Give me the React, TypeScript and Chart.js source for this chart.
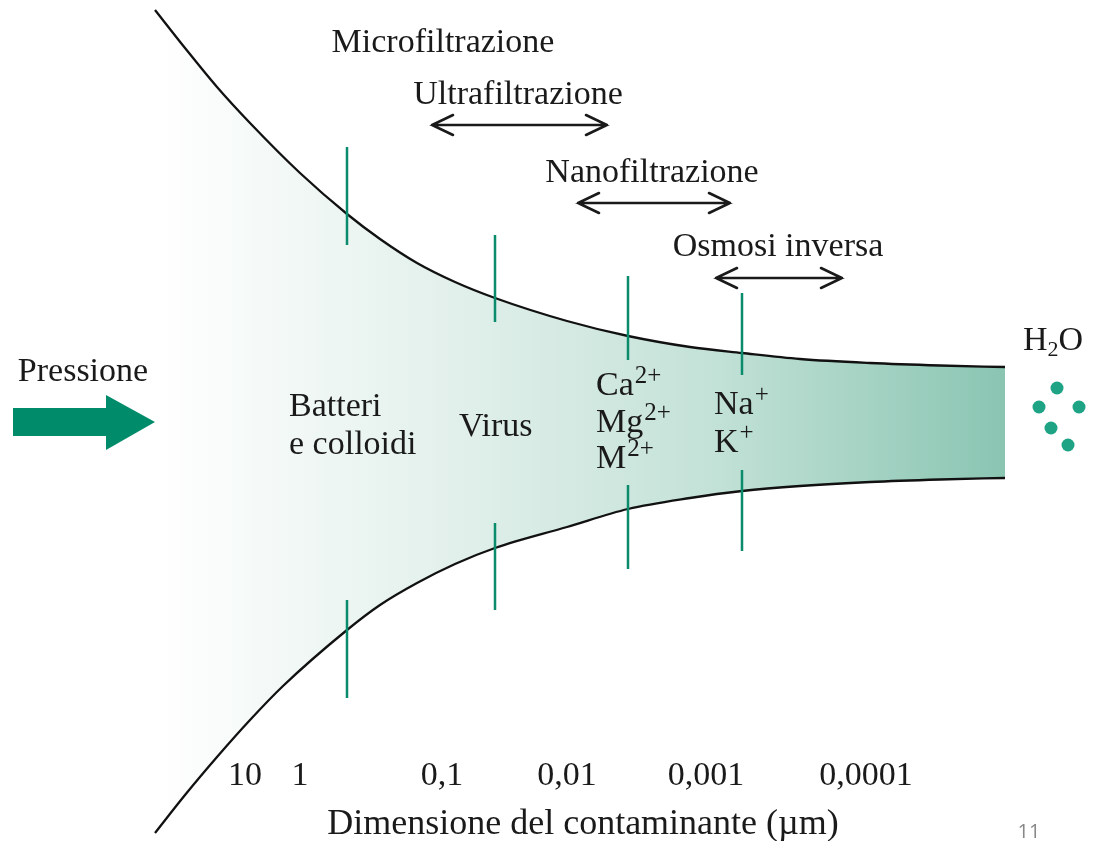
import React, { useEffect, useRef } from "react";
import { Chart, registerables } from "chart.js";

Chart.register(...registerables);

// Diagram coordinate system (x: 0..1107 across, y: 0..841 downward)
const topCurve = [
  { x: 155, y: 10 }, { x: 185, y: 48 }, { x: 217, y: 87 }, { x: 250, y: 123 },
  { x: 300, y: 173 }, { x: 347, y: 214 }, { x: 380, y: 239 }, { x: 417, y: 263 },
  { x: 455, y: 282 }, { x: 495, y: 298 }, { x: 567, y: 321 }, { x: 628, y: 336 },
  { x: 690, y: 347 }, { x: 742, y: 353 }, { x: 800, y: 359 }, { x: 870, y: 363 },
  { x: 940, y: 365.5 }, { x: 1005, y: 367 },
];
const bottomCurve = [
  { x: 155, y: 833 }, { x: 185, y: 795 }, { x: 217, y: 757 }, { x: 250, y: 720 },
  { x: 283, y: 686 }, { x: 347, y: 630 }, { x: 380, y: 605 }, { x: 417, y: 583 },
  { x: 455, y: 564 }, { x: 495, y: 548 }, { x: 567, y: 527 }, { x: 628, y: 509 },
  { x: 690, y: 498 }, { x: 742, y: 491 }, { x: 800, y: 486 }, { x: 870, y: 482 },
  { x: 940, y: 479.5 }, { x: 1005, y: 478 },
];

// Cut-off markers: x and [y1, y2] for upper and lower segments
const markerX = [347, 495, 628, 742];
const markerUpper = [[147, 245], [235, 322], [276, 360], [293, 375]];
const markerLower = [[600, 698], [523, 610], [485, 569], [470, 551]];

// Process ranges (double arrows)
const processNames = ["Microfiltrazione", "Ultrafiltrazione", "Nanofiltrazione", "Osmosi inversa"];
const processLabelPos = [[443, 52], [518, 104], [652, 182], [778, 256]];
const processArrows = [null, [432, 607, 125], [578, 730, 203], [716, 842, 278]];

// Contaminant labels
const contaminants = [
  { t: "Batteri", s: "" }, { t: "e colloidi", s: "" }, { t: "Virus", s: "" },
  { t: "Ca", s: "2+" }, { t: "Mg", s: "2+" }, { t: "M", s: "2+" },
  { t: "Na", s: "+" }, { t: "K", s: "+" },
];
const contaminantPos = [[289, 416], [289, 454], [459, 436], [596, 395], [596, 432], [596, 468], [714, 414], [714, 452]];

// Size axis tick labels
const sizeTicks = ["10", "1", "0,1", "0,01", "0,001", "0,0001"];
const sizeTickX = [245, 300, 442, 567, 706, 866];
const axisTitle = "Dimensione del contaminante (\u00b5m)";

// Water molecules
const waterDots = [
  { x: 1057, y: 388 }, { x: 1039, y: 407 }, { x: 1079, y: 407 },
  { x: 1051, y: 428 }, { x: 1068, y: 445 },
];

const SERIF = '"Liberation Serif", "DejaVu Serif", serif';
const TEAL = "#0a8c6c";
const FS = 34;

const decorPlugin = {
  id: "decor",
  afterDatasetsDraw(chart: any) {
    const { ctx, scales } = chart;
    const X = (v: number) => scales.x.getPixelForValue(v);
    const Y = (v: number) => scales.y.getPixelForValue(v);
    ctx.save();

    // Pressure arrow
    ctx.fillStyle = "#008b6b";
    ctx.beginPath();
    ctx.moveTo(X(13), Y(408));
    ctx.lineTo(X(106), Y(408));
    ctx.lineTo(X(106), Y(395));
    ctx.lineTo(X(155), Y(422));
    ctx.lineTo(X(106), Y(450));
    ctx.lineTo(X(106), Y(436));
    ctx.lineTo(X(13), Y(436));
    ctx.closePath();
    ctx.fill();

    // Double arrows
    ctx.strokeStyle = "#1a1a1a";
    ctx.lineWidth = 2.6;
    ctx.lineCap = "round";
    ctx.lineJoin = "miter";
    processArrows.forEach((a) => {
      if (!a) return;
      const x1 = X(a[0]), x2 = X(a[1]), y = Y(a[2]);
      ctx.beginPath();
      ctx.moveTo(x1, y); ctx.lineTo(x2, y);
      ctx.moveTo(x1 + 21, y - 10); ctx.lineTo(x1, y); ctx.lineTo(x1 + 21, y + 10);
      ctx.moveTo(x2 - 21, y - 10); ctx.lineTo(x2, y); ctx.lineTo(x2 - 21, y + 10);
      ctx.stroke();
    });

    ctx.fillStyle = "#1a1a1a";
    ctx.textBaseline = "alphabetic";
    ctx.font = `${FS}px ${SERIF}`;
    ctx.textAlign = "center";
    processNames.forEach((n, i) => ctx.fillText(n, X(processLabelPos[i][0]), Y(processLabelPos[i][1])));
    ctx.fillText("Pressione", X(83), Y(381));

    ctx.textAlign = "left";
    contaminants.forEach((c, i) => {
      const x = X(contaminantPos[i][0]), y = Y(contaminantPos[i][1]);
      ctx.font = `${FS}px ${SERIF}`;
      ctx.fillText(c.t, x, y);
      if (c.s) {
        const w = ctx.measureText(c.t).width;
        ctx.font = `25px ${SERIF}`;
        ctx.fillText(c.s, x + w + 1, y - 12);
      }
    });

    // H2O
    {
      const x = X(1023), y = Y(350);
      ctx.font = `${FS}px ${SERIF}`;
      ctx.fillText("H", x, y);
      let w = ctx.measureText("H").width;
      ctx.font = `22px ${SERIF}`;
      ctx.fillText("2", x + w, y + 6);
      w += ctx.measureText("2").width;
      ctx.font = `${FS}px ${SERIF}`;
      ctx.fillText("O", x + w, y);
    }

    ctx.textAlign = "center";
    ctx.font = `${FS}px ${SERIF}`;
    sizeTicks.forEach((t, i) => ctx.fillText(t, X(sizeTickX[i]), Y(785)));
    ctx.font = `36px ${SERIF}`;
    ctx.fillText(axisTitle, X(583), Y(834));

    ctx.fillStyle = "#888888";
    ctx.font = `20px "Open Sans", "DejaVu Sans", sans-serif`;
    ctx.fillText("11", X(1029), Y(838));
    ctx.restore();
  },
};

function markerData(ranges: number[][]) {
  const out: any[] = [];
  ranges.forEach((r, i) => {
    out.push({ x: markerX[i], y: r[0] }, { x: markerX[i], y: r[1] }, { x: markerX[i], y: NaN });
  });
  return out;
}

export default function App() {
  const ref = useRef<HTMLCanvasElement | null>(null);
  useEffect(() => {
    if (!ref.current) return;
    const chart = new Chart(ref.current, {
      type: "scatter",
      data: {
        datasets: [
          {
            data: topCurve,
            showLine: true,
            borderColor: "#111",
            borderWidth: 2.3,
            pointRadius: 0,
            cubicInterpolationMode: "monotone",
            fill: "+1",
            backgroundColor: (c: any) => {
              const { chart: ch } = c;
              const area = ch.chartArea;
              if (!area) return "rgba(140,198,180,0.5)";
              const sx = ch.scales.x;
              const g = ch.ctx.createLinearGradient(sx.getPixelForValue(155), 0, sx.getPixelForValue(1005), 0);
              g.addColorStop(0, "rgba(255,255,255,1)");
              g.addColorStop(0.35, "rgb(226,240,235)");
              g.addColorStop(0.65, "rgb(196,226,216)");
              g.addColorStop(1, "rgb(138,197,178)");
              return g;
            },
            order: 4,
          } as any,
          {
            data: bottomCurve,
            showLine: true,
            borderColor: "#111",
            borderWidth: 2.3,
            pointRadius: 0,
            cubicInterpolationMode: "monotone",
            fill: false,
            order: 3,
          } as any,
          {
            data: markerData(markerUpper),
            showLine: true,
            spanGaps: false,
            borderColor: TEAL,
            borderWidth: 2.5,
            pointRadius: 0,
            order: 1,
          } as any,
          {
            data: markerData(markerLower),
            showLine: true,
            spanGaps: false,
            borderColor: TEAL,
            borderWidth: 2.5,
            pointRadius: 0,
            order: 1,
          } as any,
          {
            data: waterDots,
            pointRadius: 6.5,
            pointBackgroundColor: "#1fa385",
            pointBorderWidth: 0,
            showLine: false,
            order: 1,
          } as any,
        ],
      },
      options: {
        responsive: false,
        animation: false,
        devicePixelRatio: 1,
        layout: { padding: 0, autoPadding: false },
        plugins: { legend: { display: false }, tooltip: { enabled: false } },
        scales: {
          x: { type: "linear", min: 0, max: 1107, display: false },
          y: { type: "linear", min: 0, max: 841, reverse: true, display: false },
        },
      } as any,
      plugins: [decorPlugin],
    });
    return () => chart.destroy();
  }, []);
  return (
    <div style={{ position: "absolute", left: 0, top: 0, width: 1107, height: 841, background: "#fff" }}>
      <canvas ref={ref} width={1107} height={841} />
    </div>
  );
}
